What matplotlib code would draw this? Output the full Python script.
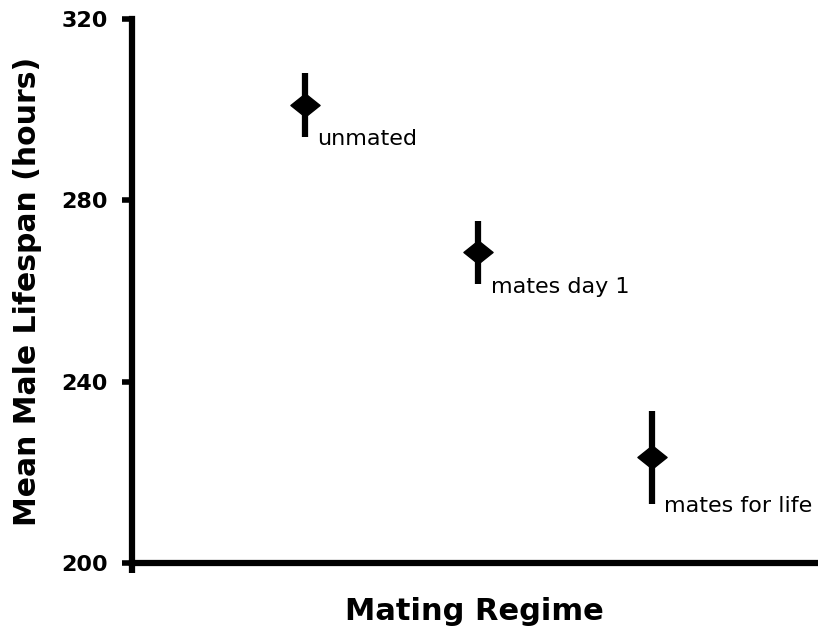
import numpy as np
from matplotlib import pyplot as plt
from matplotlib.path import Path

# Mean male lifespan per mating regime, with error bar half-widths (hours)
regimes = ["unmated", "mates day 1", "mates for life"]
mean_lifespan = [301.0, 268.5, 223.3]
lifespan_err = [7.0, 7.0, 10.3]
y_ticks = [200, 240, 280, 320]

# wide, slightly flattened diamond
diamond = Path([(-1.0, 0.0), (0.0, 0.8), (1.0, 0.0), (0.0, -0.8), (-1.0, 0.0)],
               [Path.MOVETO, Path.LINETO, Path.LINETO, Path.LINETO, Path.CLOSEPOLY])

fig = plt.figure(figsize=(8.18, 6.28), dpi=100)
ax = fig.add_axes([0.1608, 0.1035, 0.8392, 0.8662])

x = np.arange(1, len(regimes) + 1)
ax.errorbar(x, mean_lifespan, yerr=lifespan_err, fmt="none", ecolor="black",
            elinewidth=4.5, capsize=0)
ax.plot(x, mean_lifespan, linestyle="none", marker=diamond, markersize=21,
        color="black")

for xi, name, m, e in zip(x, regimes, mean_lifespan, lifespan_err):
    ax.annotate(name, xy=(xi, m - e), xytext=(9, -6), textcoords="offset points",
                ha="left", va="baseline", fontsize=16)

ax.set_xlim(0, 3.96)
ax.set_ylim(200, 320)
ax.set_yticks(y_ticks)
ax.set_yticklabels([str(t) for t in y_ticks], fontweight="bold", fontsize=16)
ax.set_xticks([0])
ax.set_xticklabels([""])

for side in ["top", "right"]:
    ax.spines[side].set_visible(False)
for side in ["left", "bottom"]:
    ax.spines[side].set_linewidth(4.5)
ax.tick_params(axis="y", length=7, width=4, pad=10)
ax.tick_params(axis="x", length=7, width=4.5)

ax.set_xlabel("Mating Regime", fontweight="bold", fontsize=22, labelpad=14)
ax.set_ylabel("Mean Male Lifespan (hours)", fontweight="bold", fontsize=21.5, labelpad=14)

plt.savefig("out.png", dpi=100)
